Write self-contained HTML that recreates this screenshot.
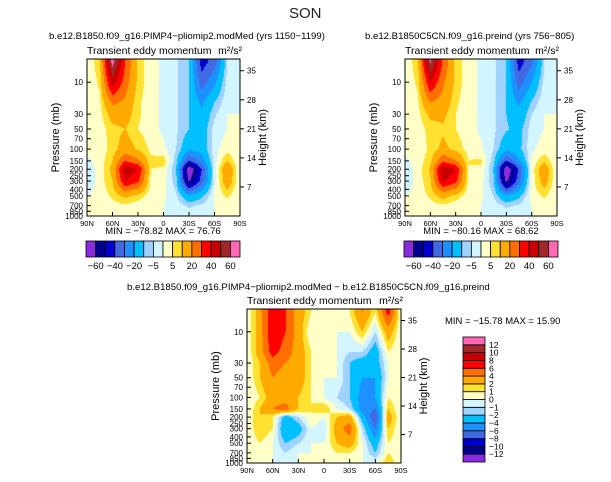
<!DOCTYPE html>
<html><head><meta charset="utf-8"><style>
body{margin:0;background:#fff;width:611px;height:482px;overflow:hidden;position:relative;font-family:"Liberation Sans",sans-serif}
.t{position:absolute;white-space:nowrap;color:#000}
canvas,svg{position:absolute;left:0;top:0}
</style></head><body>
<canvas id="cv" width="611" height="482"></canvas>
<svg id="sv" width="611" height="482"></svg>
<div class="t" style="left:289px;top:5px;font-size:15px;color:#222">SON</div>
<div class="t" style="left:49px;top:31px;font-size:9.6px">b.e12.B1850.f09_g16.PIMP4−pliomip2.modMed (yrs 1150−1199)</div>
<div class="t" style="left:365px;top:31px;font-size:9.6px">b.e12.B1850C5CN.f09_g16.preind (yrs 756−805)</div>
<div class="t" style="left:127px;top:282px;font-size:9.6px">b.e12.B1850.f09_g16.PIMP4−pliomip2.modMed − b.e12.B1850C5CN.f09_g16.preind</div>
<script>
const lats=["90N","75N","60N","45N","30N","15N","0","15S","30S","45S","60S","75S","90S"];
const plevs=[5,10,20,30,50,100,150,200,300,500,700,1000];
const levelsAbs=[-60,-50,-40,-30,-20,-10,-5,0,5,10,20,30,40,50,60];
const levelsDiff=[-12,-10,-8,-6,-4,-2,-1,0,1,2,4,6,8,10,12];
const colors=["#8a2be2","#00008b","#0000cd","#4169e1","#1e90ff","#00bfff","#a0d2ff","#d2f5ff","#ffffc8","#ffe132","#ffaa00","#ff6e00","#ff0000","#c80000","#a02828","#ff69b4"];
const grid1=[
[1,8,65,30,8,2,-1,-4,-10,-45,-35,-5,0],
[1,6,45,25,8,2,-1,-4,-10,-35,-22,-3,0],
[1,4,22,18,6,2,-1,-4,-10,-22,-10,-1,0],
[1,3,14,14,6,2,-1,-4,-10,-18,-6,0,0],
[1,2,8,10,5,2,-1,-4,-10,-15,-3,0,0],
[1,2,7,14,9,4,1,-5,-18,-15,-2,3,0],
[-1,2,10,30,22,6,8,-8,-40,-25,-2,10,0],
[-3,2,12,48,40,5,4,-10,-72,-40,-2,18,0],
[-4,2,10,40,32,4,2,-8,-62,-35,-2,16,0],
[0,2,6,12,8,2,1,-4,-18,-12,1,6,0],
[1,1,3,4,2,1,0,-2,-6,-4,0,2,0],
[1,1,2,1,0,0,0,-1,-2,-1,0,1,1]];
const grid2=[
[1,8,62,28,8,2,-1,-4,-10,-45,-32,-5,0],
[1,6,40,22,8,2,-1,-4,-10,-35,-20,-3,0],
[1,4,20,16,6,2,-1,-4,-10,-22,-9,-1,0],
[1,3,12,12,5,2,-1,-4,-10,-17,-5,0,0],
[1,2,7,9,5,2,-1,-4,-9,-13,-2,0,0],
[1,2,6,12,8,3,1,-5,-17,-12,-1,2,0],
[-1,2,8,28,21,5,6,-8,-40,-22,1,9,0],
[-3,2,11,48,40,5,4,-11,-74,-38,2,16,0],
[-4,2,9,42,33,4,2,-9,-64,-33,2,14,0],
[0,2,6,13,8,2,1,-5,-19,-12,2,6,0],
[1,1,3,4,2,1,0,-2,-6,-4,0,2,0],
[1,1,2,1,0,0,0,-1,-2,-1,0,1,1]];
const grid3=[
[0,3,8,6,3,1,0,0,1,4,1,7,0],
[0,3,8,6,3,0,0,0,0,2,-1,3,0],
[0,3,7,5,3,1,0,0,-1,-1,-3,1,0],
[0,2,5,4,3,1,0,0,-2,-3,-3,0,0],
[0,2,4,3,3,1,0,0,-2,-4,-4,0,0],
[0,1,3,3,2,1,0,-1,-2,-5,-4,1,0],
[0,2,4,5,2,1,2,0,-1,-5,-6,2,0],
[0,2,1,-3,-1,1,0,2,3,-3,-8,3,0],
[0,2,1,-4,-3,0,-1,3,5,-1,-6,2,0],
[0,1,0,-2,-1,0,0,2,3,0,-3,1,0],
[0,0,0,-1,0,0,0,1,1,0,-2,1,0],
[0,0,0,0,0,0,0,0,0,0,0,2,0]];
const pTicks=[10,30,50,70,100,150,200,250,300,400,500,700,850,1000];
const kmTicks=[35,28,21,14,7];
const NS="http://www.w3.org/2000/svg";
const sv=document.getElementById('sv');
const ctx=document.getElementById('cv').getContext('2d');
function colorFor(v,lev){let i=0;while(i<lev.length&&v>=lev[i])i++;return colors[i];}
function svgEl(tag,attrs,parent){const e=document.createElementNS(NS,tag);for(const k in attrs)e.setAttribute(k,attrs[k]);(parent||sv).appendChild(e);return e;}
function panel(id,x0,y0,w,h,grid,lev,minmax){
  const lpT=Math.log10(4.5),lpB=3;
  const yOf=p=>y0+(Math.log10(p)-lpT)/(lpB-lpT)*h;
  const lps=plevs.map(Math.log10);
  for(let py=0;py<h;py++){
    const lp=lpT+(py+0.5)/h*(lpB-lpT);
    let r=0;while(r<lps.length-2&&lp>lps[r+1])r++;
    let fy=(lp-lps[r])/(lps[r+1]-lps[r]);fy=Math.max(0,Math.min(1,fy));
    for(let px=0;px<w;px++){
      const gx=(px+0.5)/w*(lats.length-1);let c=Math.min(Math.floor(gx),lats.length-2);const fx=gx-c;
      const v=(grid[r][c]*(1-fx)+grid[r][c+1]*fx)*(1-fy)+(grid[r+1][c]*(1-fx)+grid[r+1][c+1]*fx)*fy;
      ctx.fillStyle=colorFor(v,lev);ctx.fillRect(x0+px,y0+py,1,1);
    }
  }
  const g=svgEl('g',{});
  
  
  svgEl('rect',{x:x0,y:y0,width:w,height:h,fill:'none',stroke:'#000','stroke-width':1},g);
  pTicks.forEach(p=>{const y=yOf(p);
    svgEl('line',{x1:x0,x2:x0+4,y1:y,y2:y,stroke:'#000'},g);
    const t=svgEl('text',{x:x0-4,y:y+3,'font-size':8,'text-anchor':'end'},g);t.textContent=p;
    
    });
  kmTicks.forEach(k=>{const y=yOf(1000*Math.exp(-k/7));
    svgEl('line',{x1:x0+w,x2:x0+w+4,y1:y,y2:y,stroke:'#000'},g);
    const t=svgEl('text',{x:x0+w+7,y:y+3,'font-size':8},g);t.textContent=k;
    
    });
  ["90N","60N","30N","0","30S","60S","90S"].forEach((l,i)=>{const x=x0+i*w/6;
    svgEl('line',{x1:x,x2:x,y1:y0+h,y2:y0+h-4,stroke:'#000'},g);
    const t=svgEl('text',{x:x,y:y0+h+10,'font-size':7.5,'text-anchor':'middle'},g);t.textContent=l;
    
    });
  let t=svgEl('text',{x:x0-28,y:y0+h/2,'font-size':11,'text-anchor':'middle',transform:`rotate(-90 ${x0-28} ${y0+h/2})`},g);t.textContent='Pressure (mb)';
  
  t=svgEl('text',{x:x0+w+26,y:y0+h/2,'font-size':11,'text-anchor':'middle',transform:`rotate(-90 ${x0+w+26} ${y0+h/2})`},g);t.textContent='Height (km)';
  
  t=svgEl('text',{x:x0,y:y0-5,'font-size':10.5},g);t.textContent='Transient eddy momentum';
  
  t=svgEl('text',{x:x0+w+2,y:y0-5,'font-size':10.5,'text-anchor':'end'},g);t.textContent='m²/s²';
  
  if(minmax){t=svgEl('text',{x:minmax[0],y:minmax[1],'font-size':9.5,'text-anchor':minmax[3]||'middle'},g);t.textContent=minmax[2];
  }
}
function hbar(x0,y0,w,h,lev){
  const n=colors.length,bw=w/n;
  colors.forEach((c,i)=>{const r=svgEl('rect',{x:x0+i*bw,y:y0,width:bw,height:h,fill:c,stroke:'#000','stroke-width':0.8});
    });
  lev.forEach((l,i)=>{if(i%2)return;const t=svgEl('text',{x:x0+(i+1)*bw,y:y0+h+12,'font-size':9.5,'text-anchor':'middle'});t.textContent=String(l).replace('-','−');
    });
}
function vbar(x0,y0,w,h,lev){
  const n=colors.length,bh=h/n;
  colors.forEach((c,i)=>{const r=svgEl('rect',{x:x0,y:y0+(n-1-i)*bh,width:w,height:bh,fill:c,stroke:'#000','stroke-width':0.8});
    });
  lev.forEach((l,i)=>{const t=svgEl('text',{x:x0+w+4,y:y0+(n-1-i)*bh+3,'font-size':8.5});t.textContent=String(l).replace('-','−');
    });
}
panel('panel-pimp4',87,59,153,157,grid1,levelsAbs,[163,234,'MIN = −78.82   MAX =  76.76']);
panel('panel-preind',405,59,152,157,grid2,levelsAbs,[481,234,'MIN = −80.16   MAX = 68.62']);
panel('panel-diff',247,309,154,154,grid3,levelsDiff,[445,324,'MIN = −15.78   MAX =  15.90','start']);
hbar(86,241,154,16,levelsAbs);
hbar(404,241,154,16,levelsAbs);
vbar(463,337,22,125,levelsDiff);
</script>
</body></html>
